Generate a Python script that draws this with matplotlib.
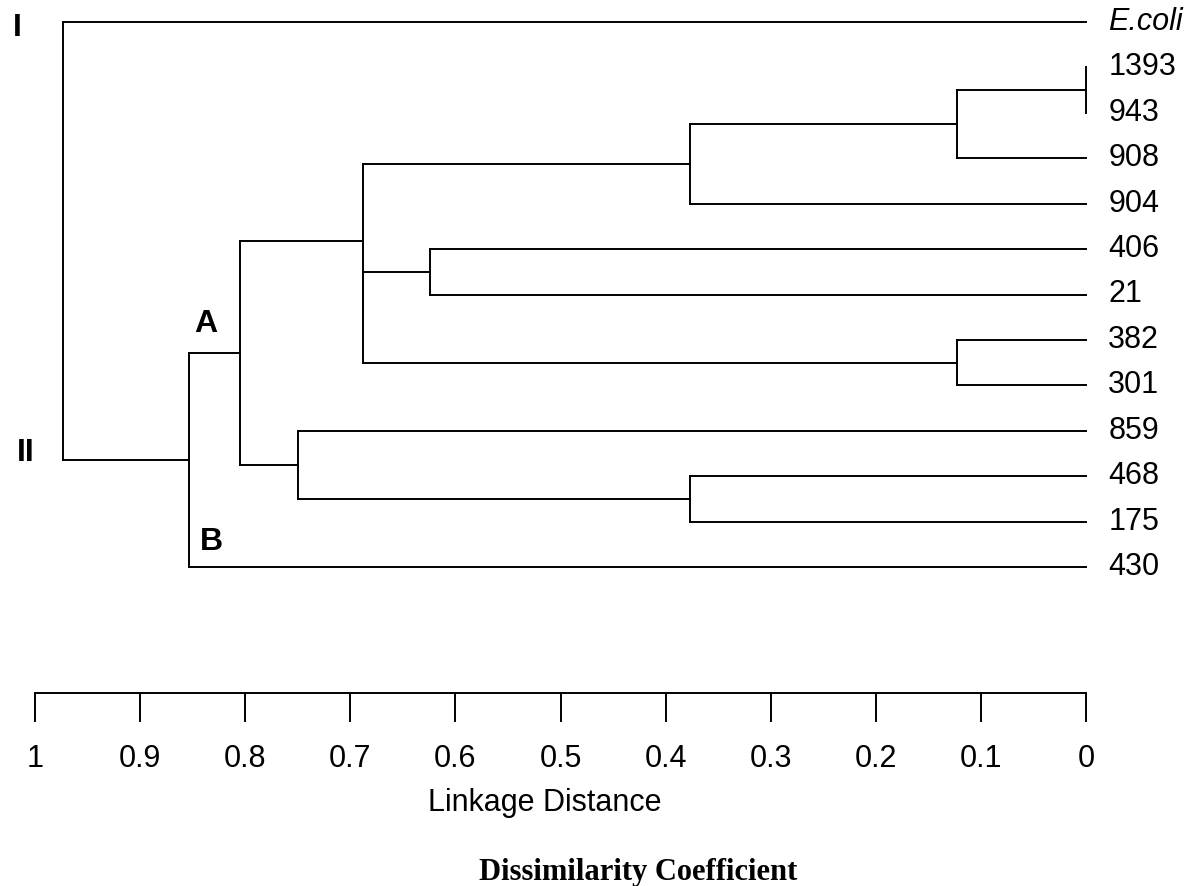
import numpy as np
import matplotlib
matplotlib.use("Agg")
from matplotlib import pyplot as plt
from matplotlib.ticker import FuncFormatter

# leaves, top to bottom
LEAVES = ["E.coli", "1393", "943", "908", "904", "406", "21",
          "382", "301", "859", "468", "175", "430"]

# merges: node ids 0..12 are leaves, each merge makes a new node (13, 14, ...)
MERGE_LEFT = [1, 13, 7, 10, 14, 5, 18, 17, 9, 20, 22, 0]
MERGE_RIGHT = [2, 3, 8, 11, 4, 6, 15, 19, 16, 21, 12, 23]
MERGE_HEIGHT = [0.0, 0.123, 0.123, 0.377, 0.377, 0.624, 0.688, 0.688,
                0.750, 0.805, 0.853, 0.973]

RULER_TICKS = [1.0, 0.9, 0.8, 0.7, 0.6, 0.5, 0.4, 0.3, 0.2, 0.1, 0.0]

W, H = 1193, 886
LW = 1.4
SANS = "Liberation Sans"


def fx(px):
    return px / W


def fy(py):
    return 1 - py / H


def main() -> None:
    fig = plt.figure(figsize=(W / 100, H / 100), dpi=100)

    # tree axes: leaf 0 at y=22px, leaf 12 at y=567px
    step = (567 - 22) / 12
    top = 22 - step / 2
    bottom = 567 + step / 2
    ax = fig.add_axes([fx(35), fy(bottom), fx(1086) - fx(35), fy(top) - fy(bottom)])
    ax.set_xlim(1.0, 0.0)
    ax.set_ylim(12.5, -0.5)
    ax.axis("off")

    n = len(LEAVES)
    ypos = {i: float(i) for i in range(n)}
    hgt = {i: 0.0 for i in range(n)}
    for k, (a, b, h) in enumerate(zip(MERGE_LEFT, MERGE_RIGHT, MERGE_HEIGHT)):
        node = n + k
        for c in (a, b):
            ax.plot([hgt[c], h], [ypos[c], ypos[c]], color="black", lw=LW,
                    solid_capstyle="projecting", clip_on=False)
        ax.plot([h, h], [ypos[a], ypos[b]], color="black", lw=LW,
                solid_capstyle="projecting", clip_on=False)
        ypos[node] = (ypos[a] + ypos[b]) / 2
        hgt[node] = h

    for i, name in enumerate(LEAVES):
        style = "italic" if name == "E.coli" else "normal"
        ax.annotate(name, (0.0, i), xytext=(16, 0), textcoords="offset points",
                    ha="left", va="center", fontsize=22, family=SANS,
                    fontstyle=style, annotation_clip=False)

    root = n + len(MERGE_HEIGHT) - 1
    node_ii = n + len(MERGE_HEIGHT) - 2
    node_a = n + len(MERGE_HEIGHT) - 3
    bold = dict(textcoords="offset points", ha="center", va="center",
                fontsize=23, family=SANS, fontweight="bold", annotation_clip=False)
    ax.annotate("I", (hgt[root], ypos[0]), xytext=(-33, -4), **bold)
    ax.annotate("II", (hgt[root], ypos[node_ii]), xytext=(-27, 5), **bold)
    ax.annotate("A", (hgt[node_ii], ypos[node_a]), xytext=(11.5, 20.5), **bold)
    ax.annotate("B", (hgt[node_ii], ypos[12]), xytext=(16, 18), **bold)

    # ruler
    rax = fig.add_axes([fx(35), fy(693), fx(1086) - fx(35), 0.0001])
    rax.set_xlim(1.0, 0.0)
    rax.set_ylim(0, 1)
    for s in ("top", "left", "right"):
        rax.spines[s].set_visible(False)
    rax.spines["bottom"].set_linewidth(LW)
    rax.set_yticks([])
    rax.set_xticks(RULER_TICKS)
    rax.xaxis.set_major_formatter(FuncFormatter(lambda v, p: f"{v:g}"))
    rax.tick_params(axis="x", direction="out", length=21, width=LW, pad=15.5,
                    labelsize=22)
    for lab in rax.get_xticklabels():
        lab.set_family(SANS)

    fig.text(fx(545), fy(803), "Linkage Distance", ha="center", va="center",
             fontsize=22, family=SANS)
    fig.text(fx(638), fy(880), "Dissimilarity Coefficient", ha="center",
             va="baseline", fontsize=22, family="Liberation Serif",
             fontweight="bold")

    fig.savefig("out.png", dpi=100)


if __name__ == "__main__":
    main()
